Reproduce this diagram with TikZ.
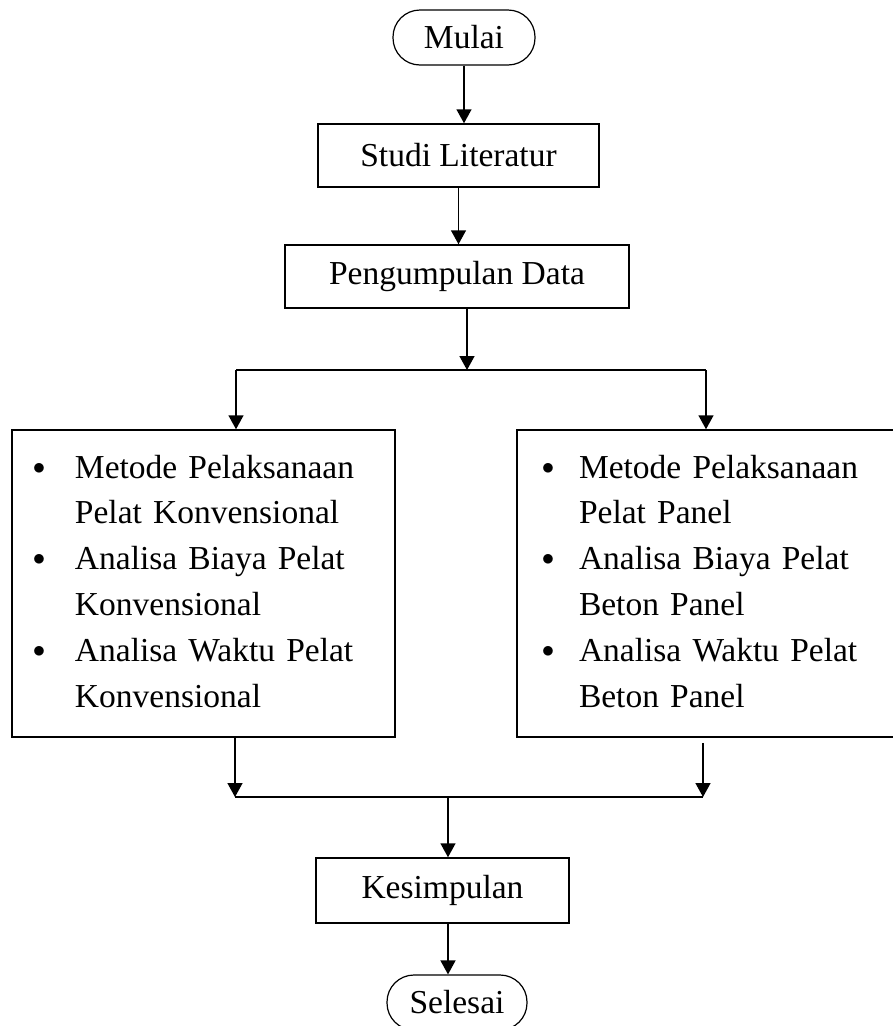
\documentclass[tikz,border=0pt]{standalone}
\usepackage{fontspec}
\setmainfont{Liberation Serif}
\usetikzlibrary{arrows.meta}
\newcommand{\dotitem}{\makebox[12pt]{\raisebox{4pt}{$\bullet$}}}

\begin{document}
\begin{tikzpicture}[x=1pt,y=-1pt,
		font=\fontsize{33.5}{45.8}\selectfont,
		box/.style={draw, line width=1.5pt, minimum height=63pt, inner sep=0pt},
		term/.style={draw, line width=1.2pt, rounded corners=27pt, minimum width=142pt, minimum height=55pt, inner sep=0pt},
		arr/.style={line width=1.5pt, -{Triangle[length=14pt,width=15pt]}},
		link/.style={line width=1.5pt}]
			\useasboundingbox (0,0) rectangle (893,1026);
			\clip (0,0) rectangle (893,1026);
			% terminals and boxes
			\node[term] (mulai) at (464,37.5) {Mulai};
			\node[box, minimum width=281pt] (studi) at (458.5,155.5) {Studi Literatur};
			\node[box, minimum width=344pt] (data) at (457,276.5) {Pengumpulan Data};
			\node[box, text width=341pt, inner xsep=21pt, minimum height=307pt, align=left] (konv) at (203.5,583.5)
				{\noindent\begin{tabular}{@{}l@{\hspace{30pt}}l@{}}
					\dotitem & Metode Pelaksanaan\\
					& Pelat Konvensional\\
					\dotitem & Analisa Biaya Pelat\\
					& Konvensional\\
					\dotitem & Analisa Waktu Pelat\\
					& Konvensional
				\end{tabular}};
			\node[box, text width=330pt, inner xsep=25pt, minimum height=307pt, align=left] (panel) at (707,583.5)
				{\noindent\begin{tabular}{@{}l@{\hspace{25pt}}l@{}}
					\dotitem & Metode Pelaksanaan\\
					& Pelat Panel\\
					\dotitem & Analisa Biaya Pelat\\
					& Beton Panel\\
					\dotitem & Analisa Waktu Pelat\\
					& Beton Panel
				\end{tabular}};
			\node[box, minimum width=253pt, minimum height=65pt] (kesim) at (442.5,890.5) {Kesimpulan};
			\node[term, minimum width=140pt] (selesai) at (457,1002.5) {Selesai};
			% branch points
			\coordinate (split) at (467,370);
			\coordinate (splitL) at (236,370);
			\coordinate (splitR) at (706,370);
			\coordinate (join) at (448,797);
			\coordinate (joinL) at (235,797);
			\coordinate (joinR) at (703,797);
			% arrows
			\draw[arr] (mulai.south) -- (mulai.south |- studi.north);
			\draw[arr] (studi.south) -- (studi.south |- data.north);
			\draw[arr] (data.south -| split) -- (split);
			\draw[link] (splitL) -- (splitR);
			\draw[arr] (splitL) -- (splitL |- konv.north);
			\draw[arr] (splitR) -- (splitR |- panel.north);
			\draw[arr] (konv.south -| joinL) -- (joinL);
			\draw[arr] ([yshift=-5pt]panel.south -| joinR) -- (joinR);
			\draw[link] (joinL) -- (joinR);
			\draw[arr] (join) -- (join |- kesim.north);
			\draw[arr] (kesim.south -| join) -- (join |- selesai.north);
		\end{tikzpicture}
\end{document}
